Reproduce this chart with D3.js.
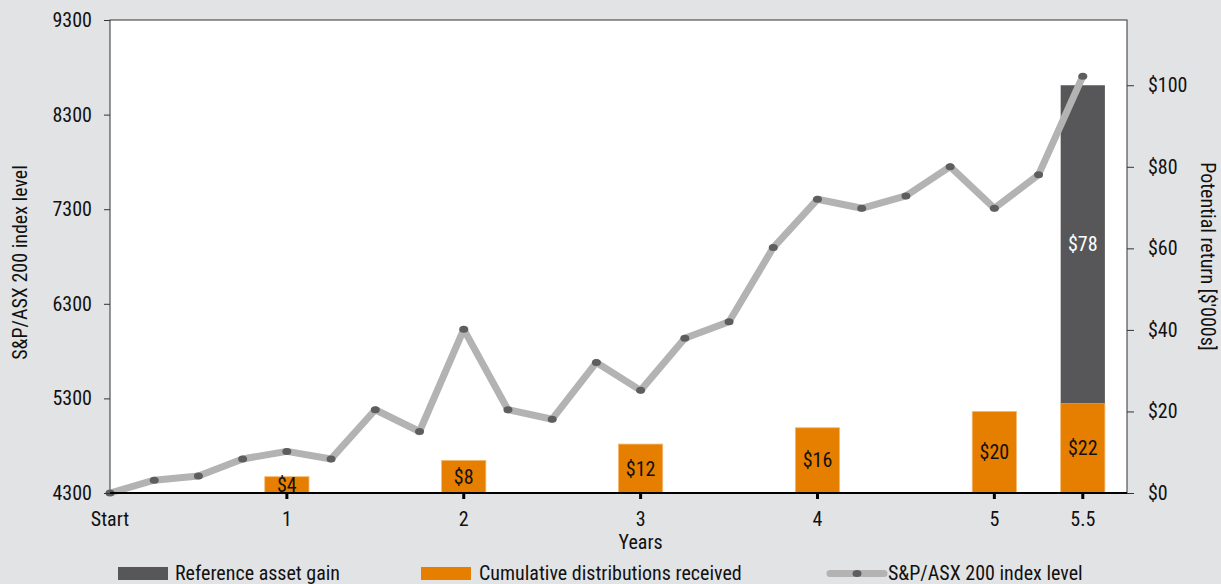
<!DOCTYPE html>
<html>
<head>
<meta charset="utf-8">
<script src="https://cdn.jsdelivr.net/npm/d3@7"></script>
<style>
  body { margin: 0; background: #e2e3e5; }
  svg text { font-family: "Liberation Sans Narrow", "Arial Narrow", "Roboto Condensed", "DejaVu Sans Condensed", sans-serif; fill: #111; }
</style>
</head>
<body>
<div id="chart"></div>
<script>
// Index level, quarterly
const quarters = [0, 0.25, 0.5, 0.75, 1, 1.25, 1.5, 1.75, 2, 2.25, 2.5, 2.75, 3, 3.25, 3.5, 3.75, 4, 4.25, 4.5, 4.75, 5, 5.25, 5.5];
const indexLevels = [4300, 4435, 4480, 4660, 4740, 4660, 5180, 4950, 6030, 5180, 5080, 5680, 5385, 5935, 6110, 6895, 7405, 7310, 7440, 7750, 7310, 7665, 8705];

// Bars ($'000s)
const barYears = [1, 2, 3, 4, 5, 5.5];
const distributions = [4, 8, 12, 16, 20, 22];
const assetGain = [0, 0, 0, 0, 0, 78];

// Axis ticks
const xTicks = [0, 1, 2, 3, 4, 5, 5.5];
const xTickLabels = ["Start", "1", "2", "3", "4", "5", "5.5"];
const leftTicks = [4300, 5300, 6300, 7300, 8300, 9300];
const rightTicks = [0, 20, 40, 60, 80, 100];

const width = 1221, height = 584;
const margin = { left: 110, right: 94, top: 20, bottom: 91 };
const plotW = width - margin.left - margin.right;
const plotH = height - margin.top - margin.bottom;

const svg = d3.select("#chart").append("svg")
  .attr("width", width)
  .attr("height", height);

const x = d3.scaleLinear().domain([0, 5.75]).range([margin.left, margin.left + plotW]);
const yLeft = d3.scaleLinear().domain([4300, 9300]).range([margin.top + plotH, margin.top]);
const yRight = d3.scaleLinear().domain([0, 116]).range([margin.top + plotH, margin.top]);

const orange = "#e67e00", darkGray = "#575759", lineGray = "#b3b3b3", markerGray = "#5e5e60";

// plot background + frame
svg.append("rect")
  .attr("x", margin.left).attr("y", margin.top)
  .attr("width", plotW).attr("height", plotH)
  .style("fill", "#fff")
  .style("stroke", "#333")
  .style("stroke-width", 1);

// bars
const barW = x(0.25) - x(0);
const bars = barYears.map((yr, i) => ({ yr, dist: distributions[i], gain: assetGain[i] }));

svg.append("g").selectAll("rect")
  .data(bars)
  .enter().append("rect")
  .attr("x", d => x(d.yr) - barW / 2)
  .attr("y", d => yRight(d.dist))
  .attr("width", barW)
  .attr("height", d => yRight(0) - yRight(d.dist))
  .style("fill", orange)
  .style("stroke", "#f3b870")
  .style("stroke-width", 0.8);

svg.append("g").selectAll("rect")
  .data(bars.filter(d => d.gain > 0))
  .enter().append("rect")
  .attr("x", d => x(d.yr) - barW / 2)
  .attr("y", d => yRight(d.dist + d.gain))
  .attr("width", barW)
  .attr("height", d => yRight(d.dist) - yRight(d.dist + d.gain))
  .style("fill", darkGray);

// bar labels
svg.append("g").selectAll("text")
  .data(bars)
  .enter().append("text")
  .attr("x", d => x(d.yr))
  .attr("y", d => (yRight(d.dist) + yRight(0)) / 2)
  .attr("text-anchor", "middle")
  .attr("dy", "0.35em")
  .style("font-size", "20px")
  .text(d => "$" + d.dist);

svg.append("g").selectAll("text")
  .data(bars.filter(d => d.gain > 0))
  .enter().append("text")
  .attr("x", d => x(d.yr))
  .attr("y", d => (yRight(d.dist) + yRight(d.dist + d.gain)) / 2)
  .attr("text-anchor", "middle")
  .attr("dy", "0.35em")
  .style("font-size", "20px")
  .style("fill", "#fff")
  .text(d => "$" + d.gain);

// index line
const points = quarters.map((q, i) => ({ q, v: indexLevels[i] }));
const line = d3.line().x(d => x(d.q)).y(d => yLeft(d.v));

svg.append("path")
  .datum(points)
  .attr("d", line)
  .style("fill", "none")
  .style("stroke", lineGray)
  .style("stroke-width", 7)
  .style("stroke-linejoin", "round");

svg.append("g").selectAll("ellipse")
  .data(points)
  .enter().append("ellipse")
  .attr("cx", d => x(d.q))
  .attr("cy", d => yLeft(d.v))
  .attr("rx", 4.5)
  .attr("ry", 3.5)
  .style("fill", markerGray);

// bottom axis line
svg.append("line")
  .attr("x1", margin.left).attr("x2", margin.left + plotW)
  .attr("y1", yLeft(4300)).attr("y2", yLeft(4300))
  .style("stroke", "#000")
  .style("stroke-width", 2);

// x ticks
const xAxis = svg.append("g");
xAxis.selectAll("line")
  .data(xTicks.filter(d => d > 0))
  .enter().append("line")
  .attr("x1", d => x(d)).attr("x2", d => x(d))
  .attr("y1", yLeft(4300)).attr("y2", yLeft(4300) + 6)
  .style("stroke", "#000")
  .style("stroke-width", 3);

xAxis.selectAll("text")
  .data(xTicks)
  .enter().append("text")
  .attr("x", d => x(d))
  .attr("y", 526)
  .attr("text-anchor", "middle")
  .style("font-size", "20px")
  .text((d, i) => xTickLabels[i]);

svg.append("text")
  .attr("x", x(3))
  .attr("y", 549)
  .attr("text-anchor", "middle")
  .style("font-size", "20px")
  .text("Years");

// left axis
const leftAxis = svg.append("g")
  .attr("transform", `translate(${margin.left},0)`)
  .call(d3.axisLeft(yLeft).tickValues(leftTicks).tickSize(6).tickPadding(12).tickFormat(d3.format("d")));
leftAxis.select(".domain").remove();
leftAxis.selectAll("line").style("stroke", "#333");
leftAxis.selectAll("text").style("font-size", "20px").style("font-family", null).attr("fill", null);

// right axis
const rightAxis = svg.append("g")
  .attr("transform", `translate(${margin.left + plotW},0)`)
  .call(d3.axisRight(yRight).tickValues(rightTicks).tickSize(7).tickPadding(14).tickFormat(d => "$" + d));
rightAxis.select(".domain").remove();
rightAxis.selectAll("line").style("stroke", "#333");
rightAxis.selectAll("text").style("font-size", "20px").style("font-family", null).attr("fill", null);

// axis titles
svg.append("text")
  .attr("transform", `translate(27,${(margin.top + margin.top + plotH) / 2 + 6}) rotate(-90)`)
  .attr("text-anchor", "middle")
  .style("font-size", "20px")
  .text("S&P/ASX 200 index level");

svg.append("text")
  .attr("transform", `translate(1201,${(margin.top + margin.top + plotH) / 2}) rotate(90)`)
  .attr("text-anchor", "middle")
  .style("font-size", "20px")
  .text("Potential return [$'000s]");

// legend
const legend = svg.append("g");
legend.append("rect").attr("x", 118).attr("y", 567).attr("width", 50).attr("height", 13).style("fill", darkGray);
legend.append("text").attr("x", 175).attr("y", 580).style("font-size", "20px").text("Reference asset gain");

legend.append("rect").attr("x", 421).attr("y", 567).attr("width", 50).attr("height", 13).style("fill", orange);
legend.append("text").attr("x", 479).attr("y", 580).style("font-size", "20px").text("Cumulative distributions received");

legend.append("line").attr("x1", 830).attr("x2", 884).attr("y1", 573.5).attr("y2", 573.5)
  .style("stroke", lineGray).style("stroke-width", 7).style("stroke-linecap", "round");
legend.append("ellipse").attr("cx", 857).attr("cy", 573.5).attr("rx", 4.5).attr("ry", 3.5).style("fill", markerGray);
legend.append("text").attr("x", 888).attr("y", 580).style("font-size", "20px").text("S&P/ASX 200 index level");
</script>
</body>
</html>
